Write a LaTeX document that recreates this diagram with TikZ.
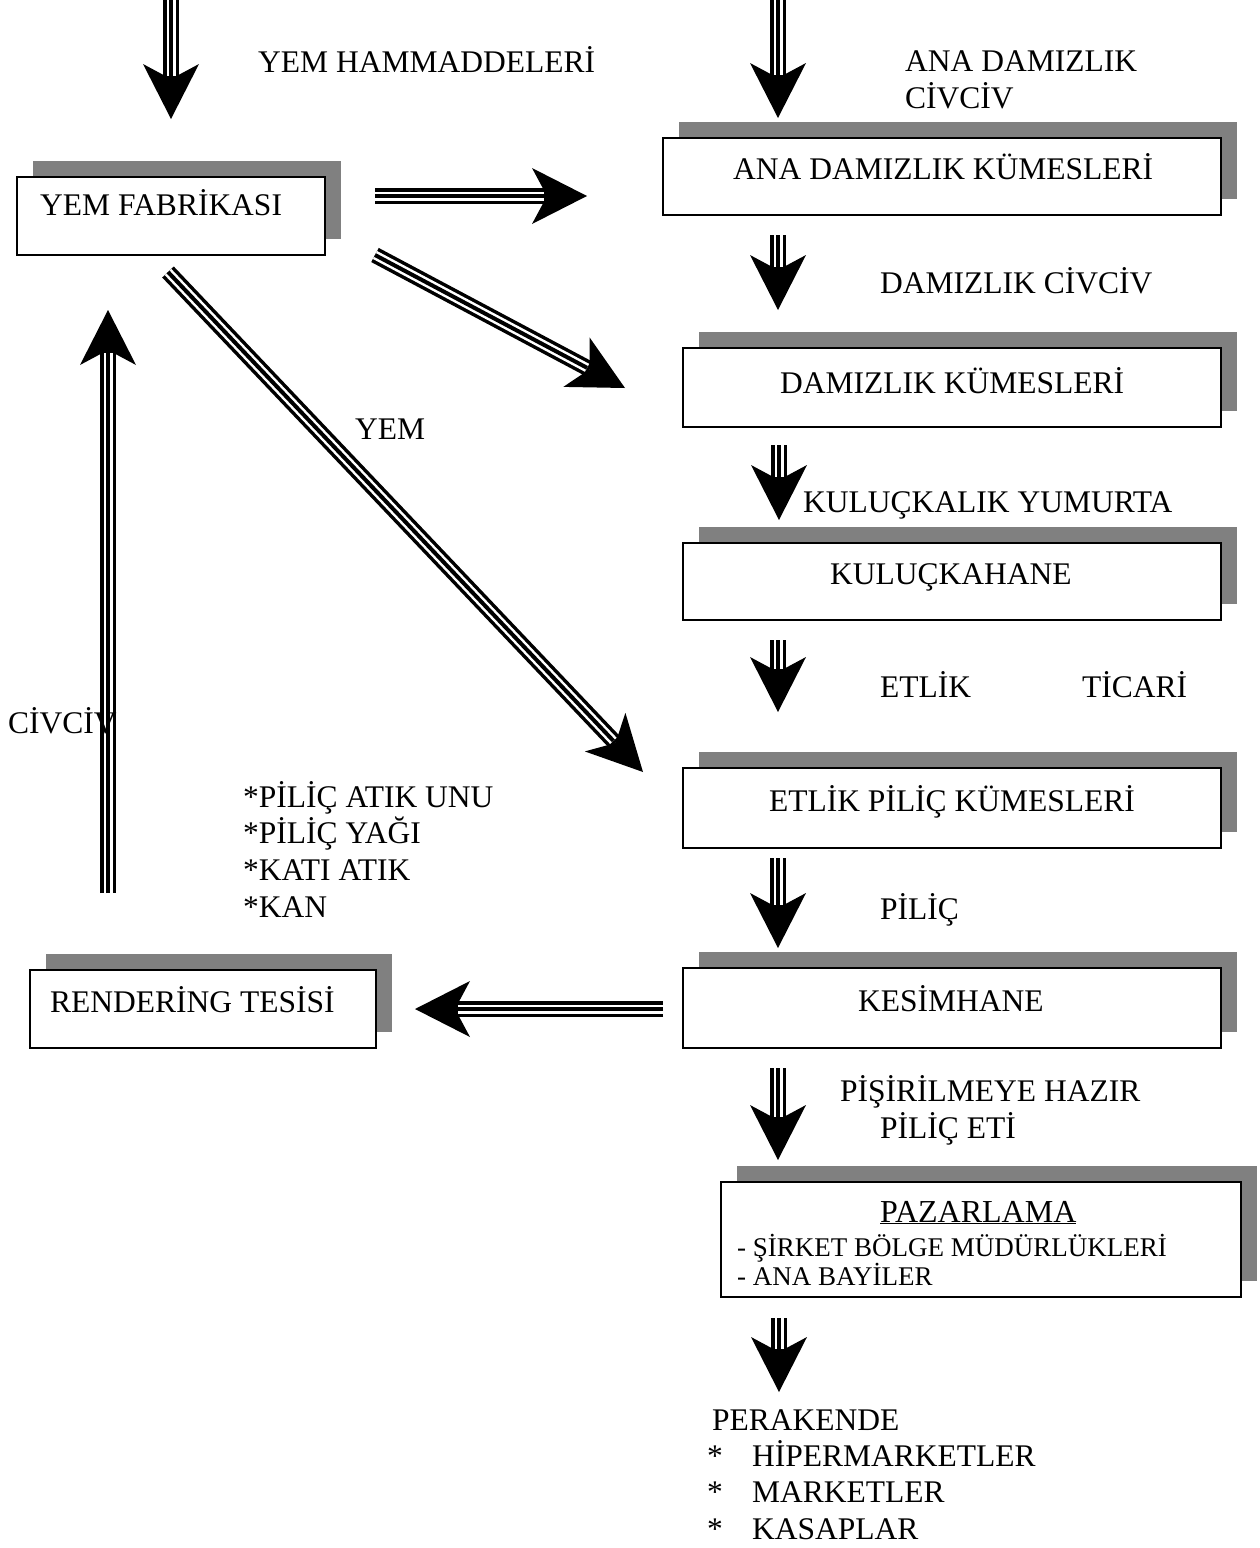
\documentclass[tikz,border=0pt]{standalone}
\usepackage{fontspec}
\setmainfont{Liberation Serif}
\usetikzlibrary{arrows.meta,shadows}
\definecolor{shadegray}{HTML}{808080}
\tikzset{
  box/.style={draw=black, line width=1.5pt, fill=white, inner sep=0pt,
    drop shadow={shadow xshift=16pt, shadow yshift=16pt, fill=shadegray, opacity=1, draw=none}},
  lbl/.style={font=\fontsize{31.5}{36}\selectfont, inner sep=0pt, anchor=base west},
  smalllbl/.style={font=\fontsize{27}{32}\selectfont, inner sep=0pt, anchor=base west},
  shaftblack/.style={draw=black, line width=16pt,
    -{Stealth[length=55pt, width=56pt, inset=15pt, line width=0pt]}},
  shaftwhite/.style={draw=white, line width=2.5pt, double=black, double distance=4pt, shorten >=43pt},
}
\newcommand\triarrow[2]{\draw[shaftblack] (#1) -- (#2); \draw[shaftwhite] (#1) -- (#2);}
\begin{document}
\begin{tikzpicture}[x=1pt,y=-1pt]
\useasboundingbox (0,0) rectangle (1260,1548);

% boxes
\node[box, minimum width=308pt, minimum height=78pt] (fab) at (171,216) {};
\node[box, minimum width=558pt, minimum height=77pt] (ana) at (942,176.5) {};
\node[box, minimum width=538pt, minimum height=79pt] (dam) at (952,387.5) {};
\node[box, minimum width=538pt, minimum height=77pt] (kul) at (952,581.5) {};
\node[box, minimum width=538pt, minimum height=80pt] (etl) at (952,808) {};
\node[box, minimum width=538pt, minimum height=80pt] (kes) at (952,1008) {};
\node[box, minimum width=346pt, minimum height=78pt] (ren) at (203,1009) {};
\node[box, minimum width=520pt, minimum height=115pt] (paz) at (981,1239.5) {};

% arrow end points
\coordinate (a1s) at (171,0);    \coordinate (a1e) at (171,119);
\coordinate (a2s) at (778,0);    \coordinate (a2e) at (778,118);
\coordinate (a3s) at (375,196);  \coordinate (a3e) at (587,196);
\coordinate (a4s) at (375,255);  \coordinate (a4e) at (625,388);
\coordinate (a5s) at (168,272);  \coordinate (a5e) at (643,772);
\coordinate (a6s) at (778,235);  \coordinate (a6e) at (778,310);
\coordinate (a7s) at (779,445);  \coordinate (a7e) at (779,520);
\coordinate (a8s) at (778,640);  \coordinate (a8e) at (778,712);
\coordinate (a9s) at (778,858);  \coordinate (a9e) at (778,948);
\coordinate (a10s) at (778,1068); \coordinate (a10e) at (778,1160);
\coordinate (a11s) at (779,1318); \coordinate (a11e) at (779,1392);
\coordinate (a12s) at (663,1009); \coordinate (a12e) at (415,1009);
\coordinate (a13s) at (108,893);  \coordinate (a13e) at (108,310);

\triarrow{a1s}{a1e}
\triarrow{a2s}{a2e}
\triarrow{a3s}{a3e}
\triarrow{a4s}{a4e}
\triarrow{a5s}{a5e}
\triarrow{a6s}{a6e}
\triarrow{a7s}{a7e}
\triarrow{a8s}{a8e}
\triarrow{a9s}{a9e}
\triarrow{a10s}{a10e}
\triarrow{a11s}{a11e}
\triarrow{a12s}{a12e}
\triarrow{a13s}{a13e}

% texts
\node[lbl] (t1) at (258,72) {YEM HAMMADDELERİ};
\node[lbl] (t2) at (905,71) {ANA DAMIZLIK};
\node[lbl] (t3) at (905,108) {CİVCİV};
\node[lbl] (anat) at (733,179) {ANA DAMIZLIK KÜMESLERİ};
\node[lbl] (fabt) at (40,215) {YEM FABRİKASI};
\node[lbl] (t4) at (880,293) {DAMIZLIK CİVCİV};
\node[lbl] (damt) at (780,393) {DAMIZLIK KÜMESLERİ};
\node[lbl] (t5) at (355,439) {YEM};
\node[lbl] (t6) at (803,512) {KULUÇKALIK YUMURTA};
\node[lbl] (kult) at (830,584) {KULUÇKAHANE};
\node[lbl] (t7) at (880,697) {ETLİK};
\node[lbl] (t8) at (1082,697) {TİCARİ};
\node[lbl] (t9) at (8,733) {CİVCİV};
\node[lbl, anchor=base] (etlt) at (952,811) {ETLİK PİLİÇ KÜMESLERİ};
\node[lbl] (w1) at (243,807) {*PİLİÇ ATIK UNU};
\node[lbl] (w2) at (243,843.7) {*PİLİÇ YAĞI};
\node[lbl] (w3) at (243,880.4) {*KATI ATIK};
\node[lbl] (w4) at (243,917) {*KAN};
\node[lbl] (t10) at (880,919) {PİLİÇ};
\node[lbl] (rent) at (50,1012) {RENDERİNG TESİSİ};
\node[lbl] (kest) at (858,1011) {KESİMHANE};
\node[lbl] (t11) at (840,1101) {PİŞİRİLMEYE HAZIR};
\node[lbl] (t12) at (880,1138) {PİLİÇ ETİ};
\node[lbl, font=\fontsize{32}{36}\selectfont] (pazt) at (880,1222) {\underline{PAZARLAMA}};
\node[smalllbl] (p1) at (737,1256) {- ŞİRKET BÖLGE MÜDÜRLÜKLERİ};
\node[smalllbl] (p2) at (737,1285) {- ANA BAYİLER};
\node[lbl] (r0) at (712,1430) {PERAKENDE};
\node[lbl] (s1) at (707,1466) {*};
\node[lbl] (r1) at (752,1466) {HİPERMARKETLER};
\node[lbl] (s2) at (707,1502.5) {*};
\node[lbl] (r2) at (752,1502.5) {MARKETLER};
\node[lbl] (s3) at (707,1539) {*};
\node[lbl] (r3) at (752,1539) {KASAPLAR};
\end{tikzpicture}
\end{document}
